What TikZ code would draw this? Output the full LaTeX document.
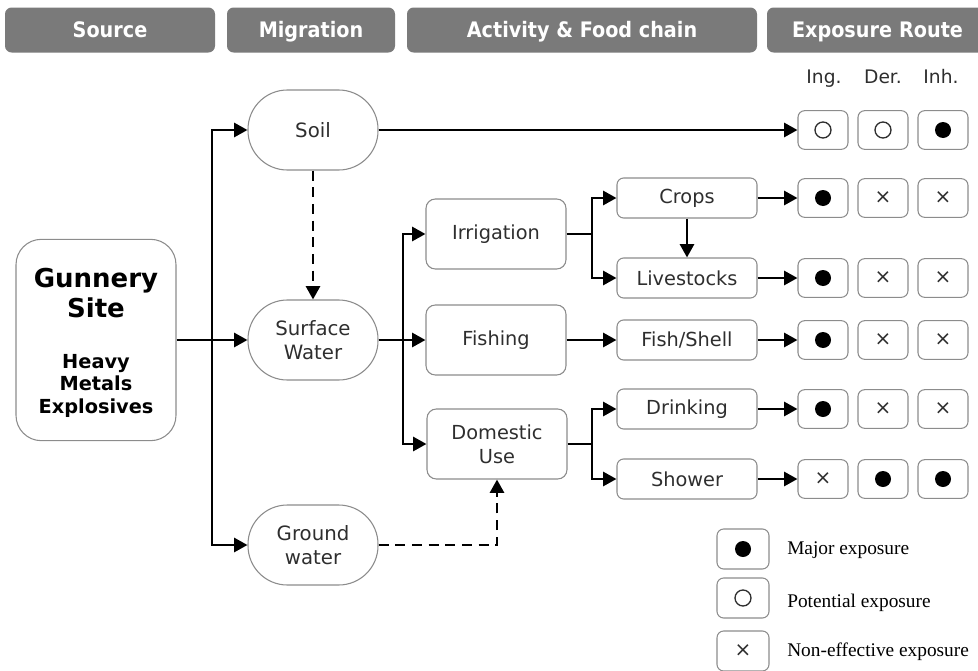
\documentclass[tikz,border=0pt]{standalone}
\usepackage{fontspec}
\setmainfont{DejaVu Sans}
\newfontfamily\headfont[FakeStretch=0.9]{DejaVu Sans}
\newfontfamily\legendfont{Liberation Serif}
\usetikzlibrary{arrows.meta}

\definecolor{headgray}{HTML}{7A7A7A}
\definecolor{boxgray}{HTML}{8C8C8C}
\definecolor{textgray}{HTML}{2E2E2E}

\tikzstyle{header} = [
rectangle,
rounded corners=5pt,
minimum height=33.75pt,
text height=14pt,
text depth=3.5pt,
text centered,
fill=headgray,
text=white,
font=\headfont\bfseries\fontsize{16}{18}\selectfont
]
\tikzstyle{source} = [
rectangle,
rounded corners=19pt,
minimum width=120pt,
minimum height=151pt,
draw=boxgray,
line width=0.8pt,
font=\bfseries
]
\tikzstyle{medium} = [
rectangle,
rounded corners=29.5pt,
minimum width=97.5pt,
minimum height=60pt,
align=center,
draw=boxgray,
line width=0.8pt,
text=textgray,
font=\fontsize{14.8}{18}\selectfont
]
\tikzstyle{activity} = [
rectangle,
rounded corners=7pt,
minimum width=105pt,
minimum height=52.5pt,
align=center,
draw=boxgray,
line width=0.8pt,
text=textgray,
font=\fontsize{14.5}{18}\selectfont
]
\tikzstyle{food} = [
rectangle,
rounded corners=5pt,
minimum width=105pt,
minimum height=30pt,
text centered,
draw=boxgray,
line width=0.8pt,
text=textgray,
font=\fontsize{14.5}{18}\selectfont
]
\tikzstyle{expo} = [
rectangle,
rounded corners=5pt,
minimum width=37.5pt,
minimum height=29pt,
inner sep=0pt,
draw=boxgray,
line width=0.8pt,
text=textgray,
font=\fontsize{15}{18}\selectfont
]
\tikzstyle{major} = [
expo,
path picture={\fill (path picture bounding box.center) circle (6pt);}
]
\tikzstyle{potential} = [
expo,
path picture={\draw[line width=1pt, textgray] (path picture bounding box.center) circle (6pt);}
]
\tikzstyle{route} = [
text=textgray,
text height=10.5pt,
text depth=3pt,
font=\fontsize{14}{16}\selectfont
]
\tikzstyle{legend} = [
anchor=west,
inner sep=0pt,
font=\legendfont\fontsize{14.5}{16}\selectfont
]
\tikzstyle{line} = [
line width=2pt
]
\tikzstyle{arrow} = [
line width=2pt,
-{Triangle[length=10pt,width=10.5pt]}
]
\tikzstyle{dasharrow} = [
arrow,
dash pattern=on 7.5pt off 5pt
]

\begin{document}
\begin{tikzpicture}[
x=0.75pt,
y=-0.75pt
]
\useasboundingbox (0,0) rectangle (978,671);

% Headers
\node (hsource) [header, minimum width=157.5pt] at (110,30) {Source};
\node (hmigration) [header, minimum width=126pt] at (311,30) {Migration};
\node (hactivity) [header, minimum width=262.5pt] at (582,30) {Activity \& Food chain};
\node (hexposure) [header, minimum width=171pt, text width=157.5pt, align=left] at (881,30) {\hspace{12pt}Exposure Route};

% Source and migration
\node (gunnery) [source] at (96,340)
{\parbox{110pt}{\vspace*{4.5pt}\centering
\fontsize{19.5}{22.5}\selectfont Gunnery\\ Site\par
\vspace{21pt}
\fontsize{14.5}{17}\selectfont Heavy\\ Metals\\ Explosives\par}};
\node (soil) [medium] at (313,130) {Soil};
\node (surface) [medium] at (313,340) {Surface\\ Water};
\node (ground) [medium] at (313,545) {Ground\\ water};
\coordinate (srcsplit) at (212,340);

% Activities
\node (irrigation) [activity] at (496,234) {Irrigation};
\node (fishing) [activity] at (496,340) {Fishing};
\node (domestic) [activity] at (497,444) {Domestic\\ Use};
\coordinate (swsplit) at (403,340);
\coordinate (irrsplit) at (592,234);
\coordinate (domsplit) at (592,444);

% Food chain
\node (crops) [food] at (687,198) {Crops};
\node (livestock) [food] at (687,278) {Livestocks};
\node (fish) [food] at (687,340) {Fish/Shell};
\node (drinking) [food] at (687,409) {Drinking};
\node (shower) [food] at (687,479) {Shower};

% Exposure routes
\node (ing) [route] at (824,78) {Ing.};
\node (der) [route] at (883,78) {Der.};
\node (inh) [route] at (941,78) {Inh.};

\node (soil-ing) [potential] at (823,130) {};
\node (soil-der) [potential] at (883,130) {};
\node (soil-inh) [major] at (943,130) {};

\node (crops-ing) [major] at (823,198) {};
\node (crops-der) [expo] at (883,198) {×};
\node (crops-inh) [expo] at (943,198) {×};

\node (stock-ing) [major] at (823,278) {};
\node (stock-der) [expo] at (883,278) {×};
\node (stock-inh) [expo] at (943,278) {×};

\node (fish-ing) [major] at (823,340) {};
\node (fish-der) [expo] at (883,340) {×};
\node (fish-inh) [expo] at (943,340) {×};

\node (drink-ing) [major] at (823,409) {};
\node (drink-der) [expo] at (883,409) {×};
\node (drink-inh) [expo] at (943,409) {×};

\node (shower-ing) [expo] at (823,479) {×};
\node (shower-der) [major] at (883,479) {};
\node (shower-inh) [major] at (943,479) {};

% Legend
\node (legmajor) [major, minimum width=39pt, minimum height=30pt] at (743,549) {};
\node (legpotential) [potential, minimum width=39pt, minimum height=30pt] at (743,598) {};
\node (legnone) [expo, minimum width=39pt, minimum height=30pt] at (743,651) {×};
\node (txtmajor) [legend] at (787,550) {Major exposure};
\node (txtpotential) [legend] at (787,603) {Potential exposure};
\node (txtnone) [legend] at (787,652) {Non-effective exposure};

% Arrows
\draw [arrow] (gunnery) -- (surface);
\draw [arrow] (srcsplit) |- (soil);
\draw [arrow] (srcsplit) |- (ground);
\draw [dasharrow] (soil) -- (surface);
\draw [arrow] (soil) -- (soil-ing);
\draw [line] (surface) -- (swsplit);
\draw [arrow] (swsplit) |- (irrigation);
\draw [arrow] (swsplit) -- (fishing);
\draw [arrow] (swsplit) |- (domestic);
\draw [dasharrow] (ground) -| (domestic);
\draw [line] (irrigation) -- (irrsplit);
\draw [arrow] (irrsplit) |- (crops);
\draw [arrow] (irrsplit) |- (livestock);
\draw [arrow] (crops) -- (livestock);
\draw [arrow] (fishing) -- (fish);
\draw [line] (domestic) -- (domsplit);
\draw [arrow] (domsplit) |- (drinking);
\draw [arrow] (domsplit) |- (shower);
\draw [arrow] (crops) -- (crops-ing);
\draw [arrow] (livestock) -- (stock-ing);
\draw [arrow] (fish) -- (fish-ing);
\draw [arrow] (drinking) -- (drink-ing);
\draw [arrow] (shower) -- (shower-ing);

\end{tikzpicture}
\end{document}
